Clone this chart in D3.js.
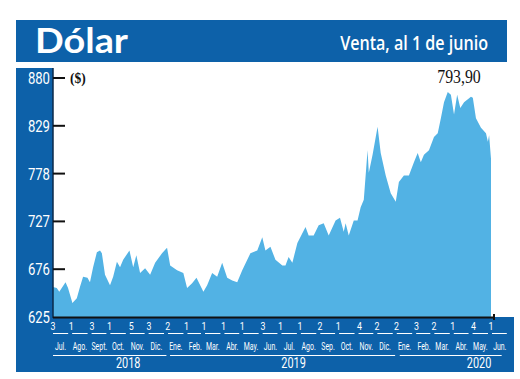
<!DOCTYPE html>
<html>
<head>
<meta charset="utf-8">
<script src="https://cdn.jsdelivr.net/npm/d3@7/dist/d3.min.js"></script>
<style>
  body { margin: 0; background: #fff; }
</style>
</head>
<body>
<div id="chart-area"></div>
<script>
// dolar venta, values
const dates = [
  "2018-07-03","2018-07-09","2018-07-13","2018-07-23","2018-07-27","2018-08-03","2018-08-10","2018-08-15",
  "2018-08-20","2018-08-27","2018-08-31","2018-09-05","2018-09-11","2018-09-16","2018-09-19","2018-09-24",
  "2018-10-02","2018-10-07","2018-10-13","2018-10-18","2018-10-23","2018-11-02","2018-11-08","2018-11-13",
  "2018-11-19","2018-11-27","2018-12-05","2018-12-13","2018-12-24","2019-01-01","2019-01-06","2019-01-17",
  "2019-01-27","2019-02-02","2019-02-10","2019-02-17","2019-02-28","2019-03-06","2019-03-14","2019-03-22",
  "2019-03-30","2019-04-07","2019-04-15","2019-04-23","2019-05-01","2019-05-14","2019-05-25","2019-06-02",
  "2019-06-07","2019-06-15","2019-06-23","2019-07-04","2019-07-09","2019-07-14","2019-07-20","2019-07-28",
  "2019-08-10","2019-08-15","2019-08-23","2019-08-31","2019-09-08","2019-09-16","2019-09-27","2019-10-04",
  "2019-10-10","2019-10-13","2019-10-18","2019-10-26","2019-11-01","2019-11-06","2019-11-11","2019-11-17",
  "2019-11-19","2019-11-25","2019-12-03","2019-12-08","2019-12-16","2019-12-24","2020-01-01","2020-01-06",
  "2020-01-14","2020-01-22","2020-01-30","2020-02-05","2020-02-10","2020-02-15","2020-02-23","2020-03-02",
  "2020-03-08","2020-03-13","2020-03-18","2020-03-24","2020-03-29","2020-04-03","2020-04-08","2020-04-13",
  "2020-04-19","2020-04-30","2020-05-03","2020-05-08","2020-05-16","2020-05-24","2020-05-27","2020-05-29",
  "2020-06-01"
];
const values = [
  657, 656, 652, 662, 656, 640, 645, 657,
  668, 667, 662, 678, 694, 696, 693, 670,
  659, 668, 684, 678, 686, 696, 678, 691,
  672, 677, 670, 683, 693, 699, 680, 675,
  672, 656, 661, 667, 652, 659, 672, 668,
  683, 667, 664, 662, 675, 693, 696, 710,
  696, 700, 686, 680, 680, 689, 683, 704,
  721, 712, 712, 723, 725, 712, 728, 731,
  716, 725, 712, 728, 728, 742, 750, 803,
  779, 798, 828, 800, 776, 757, 748, 769,
  776, 776, 790, 800, 790, 798, 803, 817,
  821, 837, 854, 865, 862, 841, 862, 848,
  854, 860, 859, 837, 827, 821, 812, 819,
  793.9
];

const yTicks = [625, 676, 727, 778, 829, 880];
const yTickLabels = ["625", "676", "727", "778", "829", "880"];

// first trading day of every month (the small numbers under the axis)
const dayTicks = [
  "2018-07-03","2018-08-01","2018-09-03","2018-10-01","2018-11-05","2018-12-03",
  "2019-01-02","2019-02-01","2019-03-01","2019-04-01","2019-05-01","2019-06-03",
  "2019-07-01","2019-08-01","2019-09-02","2019-10-01","2019-11-04","2019-12-02",
  "2020-01-02","2020-02-03","2020-03-02","2020-04-01","2020-05-04","2020-06-01"
];
const monthNames = ["Jul.","Ago.","Sept.","Oct.","Nov.","Dic.","Ene.","Feb.","Mar.","Abr.","May.","Jun.",
                    "Jul.","Ago.","Sep.","Oct.","Nov.","Dic.","Ene.","Feb.","Mar.","Abr.","May.","Jun."];
const years = ["2018", "2019", "2020"];

const title = "Dólar";
const subtitle = "Venta, al 1 de junio";
const unitLabel = "($)";
const lastLabel = "793,90";

const parse = d3.timeParse("%Y-%m-%d");
const data = dates.map((d, i) => ({ date: parse(d), value: values[i] }));

const blue = "#0d61a9";
const areaBlue = "#52b2e4";

const svg = d3.select("#chart-area")
    .append("svg")
    .attr("width", 520)
    .attr("height", 379)
    .attr("font-family", "Roboto, 'DejaVu Sans', sans-serif");

const x = d3.scaleTime()
    .domain([parse(dates[0]), parse(dates[dates.length - 1])])
    .range([53, 491]);

const y = d3.scaleLinear()
    .domain([625, 880])
    .range([317, 78]);

// squeezed text helper (the original uses a condensed face)
function squeeze(sel, fx, fy, sx) {
    sel.attr("x", 0).attr("y", 0)
        .attr("transform", (d, i) => "translate(" + fx(d, i) + "," + fy(d, i) + ") scale(" + sx + ",1)");
}

// squeeze one text so it is exactly w pixels wide
function fit(sel, tx, ty, w) {
    const len = sel.node().getComputedTextLength();
    sel.attr("x", 0).attr("y", 0)
        .attr("transform", "translate(" + tx + "," + ty + ") scale(" + (w / len) + ",1)");
}

// header band
svg.append("rect")
    .attr("x", 16).attr("y", 20)
    .attr("width", 491).attr("height", 42)
    .attr("fill", blue);

svg.append("text")
    .attr("fill", "#fff")
    .attr("font-size", 35)
    .attr("font-weight", "bold")
    .attr("font-family", "Lato, 'Open Sans', sans-serif")
    .text(title)
    .call(fit, 35, 53, 93);

svg.append("text")
    .attr("text-anchor", "end")
    .attr("fill", "#fff")
    .attr("font-size", 20)
    .attr("font-weight", 600)
    .attr("font-family", "'Open Sans', Lato, sans-serif")
    .text(subtitle)
    .call(fit, 488, 50, 148);

// left column + bottom band
svg.append("rect")
    .attr("x", 16).attr("y", 68)
    .attr("width", 37).attr("height", 260)
    .attr("fill", blue);

svg.append("rect")
    .attr("x", 16).attr("y", 317)
    .attr("width", 498).attr("height", 55)
    .attr("fill", blue);

// area
const area = d3.area()
    .x(d => x(d.date))
    .y0(y(625))
    .y1(d => y(d.value));

svg.append("path")
    .datum(data)
    .attr("d", area)
    .attr("fill", areaBlue);

// axis lines
svg.append("line")
    .attr("x1", 53).attr("x2", 53)
    .attr("y1", 68).attr("y2", y(625) + 1)
    .attr("stroke", "#0b2a4a").attr("stroke-width", 1.5);

svg.append("line")
    .attr("x1", 53).attr("x2", 495)
    .attr("y1", y(625) + 0.5).attr("y2", y(625) + 0.5)
    .attr("stroke", "#111").attr("stroke-width", 2);

svg.append("line")
    .attr("x1", 494).attr("x2", 494)
    .attr("y1", y(625) - 3).attr("y2", y(625) + 3)
    .attr("stroke", "#111").attr("stroke-width", 2);

// y ticks
svg.selectAll(".ytick")
    .data(yTicks.slice(1))
    .enter().append("line")
    .attr("class", "ytick")
    .attr("x1", 53).attr("x2", 65)
    .attr("y1", d => y(d)).attr("y2", d => y(d))
    .attr("stroke", "#111").attr("stroke-width", 2);

svg.selectAll(".ylab")
    .data(yTicks)
    .enter().append("text")
    .attr("class", "ylab")
    .attr("text-anchor", "end")
    .attr("dominant-baseline", "central")
    .attr("fill", "#fff")
    .attr("font-size", 16)
    .text((d, i) => yTickLabels[i])
    .call(squeeze, () => 50, d => y(d) + 0.5, 0.82);

// unit and last value
svg.append("text")
    .attr("font-family", "'Liberation Serif', 'DejaVu Serif', serif")
    .attr("font-weight", "bold")
    .attr("font-size", 15)
    .attr("fill", "#111")
    .text(unitLabel)
    .call(squeeze, () => 70, () => 83, 0.9);

svg.append("text")
    .attr("font-family", "'Liberation Serif', 'DejaVu Serif', serif")
    .attr("font-size", 18)
    .attr("fill", "#111")
    .attr("text-anchor", "middle")
    .text(lastLabel)
    .call(squeeze, () => 459, () => 83, 0.88);

// day numbers
const tickDates = dayTicks.map(parse);
svg.selectAll(".day")
    .data(tickDates)
    .enter().append("text")
    .attr("class", "day")
    .attr("text-anchor", "middle")
    .attr("fill", "#fff")
    .attr("font-size", 11)
    .text(d => d.getDate())
    .call(squeeze, d => x(d), () => 330, 0.8);

// month underline segments and names
const months = tickDates.map(d => new Date(d.getFullYear(), d.getMonth(), 1));
const xs = x.copy().clamp(false);

svg.selectAll(".mline")
    .data(months)
    .enter().append("line")
    .attr("class", "mline")
    .attr("x1", d => Math.max(53, xs(d) + 1))
    .attr("x2", d => xs(d3.timeMonth.offset(d, 1)) - 3)
    .attr("y1", 333.5).attr("y2", 333.5)
    .attr("stroke", "#fff").attr("stroke-width", 1);

svg.selectAll(".mname")
    .data(months)
    .enter().append("text")
    .attr("class", "mname")
    .attr("text-anchor", "middle")
    .attr("fill", "#fff")
    .attr("font-size", 10.5)
    .text((d, i) => monthNames[i])
    .call(squeeze, d => xs(new Date(d.getFullYear(), d.getMonth(), 15)), () => 350, 0.66);

// year lines and labels
const yearLines = [
    [53, xs(new Date(2018, 11, 31))],
    [xs(new Date(2019, 0, 1)) + 3, xs(new Date(2019, 11, 31))],
    [xs(new Date(2020, 0, 1)) + 4, xs(new Date(2020, 5, 18))]
];
const yearPos = [new Date(2018, 9, 31), new Date(2019, 6, 22), new Date(2020, 4, 13)];

svg.selectAll(".yline")
    .data(yearLines)
    .enter().append("line")
    .attr("class", "yline")
    .attr("x1", d => d[0]).attr("x2", d => d[1])
    .attr("y1", 355.5).attr("y2", 355.5)
    .attr("stroke", "#fff").attr("stroke-width", 1);

svg.selectAll(".year")
    .data(years)
    .enter().append("text")
    .attr("class", "year")
    .attr("text-anchor", "middle")
    .attr("fill", "#fff")
    .attr("font-size", 14)
    .text(d => d)
    .call(squeeze, (d, i) => xs(yearPos[i]), () => 368, 0.78);
</script>
</body>
</html>
